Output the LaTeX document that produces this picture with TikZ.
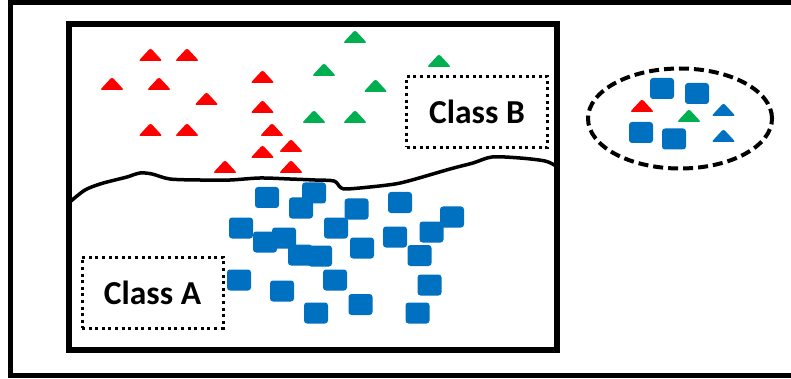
\documentclass[tikz,border=0pt]{standalone}
\usepackage{fontspec}
\setmainfont{Carlito}
\definecolor{cred}{HTML}{FF0000}
\definecolor{cgreen}{HTML}{00B050}
\definecolor{cblue}{HTML}{0070C0}
\newcommand\mytri[3]{\fill[#1, rounded corners=2.2pt] ({#2-12},#3) -- (#2,{#3-13}) -- ({#2+12},#3) -- cycle;}
\begin{document}
\begin{tikzpicture}[x=1pt,y=-1pt,
  sq/.style={fill=cblue, rounded corners=3pt, minimum width=24pt, minimum height=21pt, inner sep=0pt, draw=none},
  classbox/.style={draw, line width=3pt, dash pattern=on 3pt off 3.6pt, minimum width=141pt, minimum height=71pt, inner sep=0pt, font=\bfseries\fontsize{33.5}{36}\selectfont}]
\useasboundingbox (0,0) rectangle (791,379);
\clip (0,0) rectangle (791,379);
\fill[white] (0,0) rectangle (791,379);
% frames
\draw[line width=5pt] (10.5,2.5) rectangle (815,375.5);
\draw[line width=6pt] (68.5,24) rectangle (557,350);
% boundary
\draw[line width=3.5pt, line join=round] plot[smooth, tension=0.5] coordinates {
 (71,201) (85,190) (100,184) (115,180) (127,177) (140,173) (152,174) (170,179) (200,180) (230,180) (260,178) (290,179) (315,180) (334,181) (340,187) (346,189) (370,187) (395,184) (412,180) (450,169) (473,163) (492,157) (520,158) (545,161) (556,166)};
% red triangles
\foreach \x/\y in {150.5/61, 187/61, 112/90, 159/90, 206.5/105, 262.5/83, 262.5/113, 150.5/136, 187/136, 272/136, 291/152, 262.5/158, 225/173, 291/173}
  {\mytri{cred}{\x}{\y}}
% green triangles
\foreach \x/\y in {355/43, 324/76, 439/67, 375.5/92, 314/123, 355/123}
  {\mytri{cgreen}{\x}{\y}}
% blue squares
\node[sq] (s1) at (267,197.5) {};
\node[sq] (s3) at (301,208) {};
\node[sq] (s2) at (314,193) {};
\node[sq] (s4) at (241,228) {};
\node[sq] (s5) at (265,242) {};
\node[sq] (s6) at (284,238) {};
\node[sq] (s7) at (300,255) {};
\node[sq] (s8) at (320,256) {};
\node[sq] (s9) at (336,228) {};
\node[sq] (s10) at (239,280) {};
\node[sq] (s11) at (282,291) {};
\node[sq] (s12) at (335,280) {};
\node[sq] (s13) at (316,313) {};
\node[sq] (s14) at (356.5,209) {};
\node[sq] (s15) at (400,202.5) {};
\node[sq] (s16) at (452,217) {};
\node[sq] (s17) at (431.5,232) {};
\node[sq] (s18) at (395,237) {};
\node[sq] (s19) at (362,248) {};
\node[sq] (s20) at (419.5,255.5) {};
\node[sq] (s21) at (429.5,285) {};
\node[sq] (s22) at (360.5,304.5) {};
\node[sq] (s23) at (417.5,313) {};
% class labels
\node[classbox] (cb) at (477,112) {Class B};
\node[classbox] (ca) at (152.5,292.5) {Class A};
% ellipse with new samples
\draw[line width=4pt, dash pattern=on 10pt off 5pt] (680,118.5) ellipse [x radius=92pt, y radius=50pt];
\node[sq] (e1) at (662,88.5) {};
\node[sq] (e2) at (697,93.5) {};
\node[sq] (e3) at (641,132.5) {};
\node[sq] (e4) at (674,139) {};
\mytri{cred}{642}{112}
\mytri{cgreen}{689}{122}
\mytri{cblue}{723.5}{116}
\mytri{cblue}{723.5}{142}
\end{tikzpicture}
\end{document}
